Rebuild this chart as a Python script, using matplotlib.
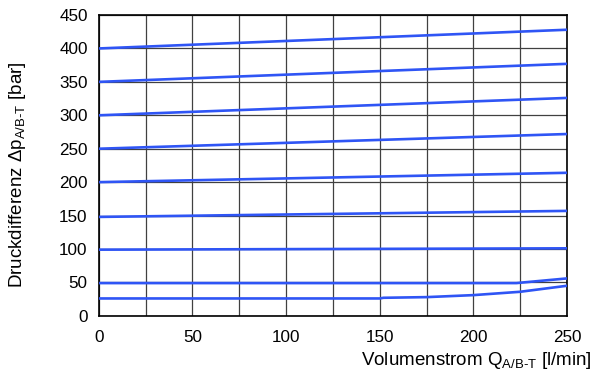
import numpy as np
import matplotlib.pyplot as plt

plt.rcParams['font.family'] = ['Liberation Sans', 'DejaVu Sans']
plt.rcParams['mathtext.fontset'] = 'custom'
plt.rcParams['mathtext.rm'] = 'Liberation Sans'

# Flow rate (l/min) and pressure differential (bar) for each setting
q_lin = [0, 250]
p400 = [400, 428]
p350 = [350, 377]
p300 = [300, 326]
p250 = [250, 272]
p200 = [200, 214]
p150 = [148, 157]
p100 = [99, 101]

q50 = [0, 150, 223, 250]
p50 = [49, 49, 49, 56]

q25 = [0, 150, 152, 175, 200, 225, 250]
p25 = [26, 26, 27, 28, 31, 36, 45]

xticks = [0, 50, 100, 150, 200, 250]
yticks = [0, 50, 100, 150, 200, 250, 300, 350, 400, 450]

fig = plt.figure(figsize=(5.95, 3.76), dpi=100)
ax = fig.add_axes([0.166, 0.160, 0.787, 0.800])

blue = '#2f55f5'
for p in [p400, p350, p300, p250, p200, p150, p100]:
    ax.plot(q_lin, p, color=blue, lw=1.9, zorder=3)
ax.plot(q50, p50, color=blue, lw=1.9, zorder=3)
ax.plot(q25, p25, color=blue, lw=1.9, zorder=3)

ax.set_xlim(0, 250)
ax.set_ylim(0, 450)
ax.set_xticks(xticks)
ax.set_yticks(yticks)
ax.set_xticks(np.arange(0, 251, 25), minor=True)
ax.grid(True, which='both', axis='x', color='#404040', lw=0.9)
ax.grid(True, which='major', axis='y', color='#404040', lw=0.9)
ax.tick_params(which='both', length=0, labelsize=12.3)
ax.tick_params(axis='x', pad=10)
ax.tick_params(axis='y', pad=8)
for s in ax.spines.values():
    s.set_linewidth(1.2)
    s.set_color('black')

fig.text(0.030, 0.535, 'Druckdifferenz $\\mathregular{\\Delta p_{A/B\\text{-}T}}$ [bar]',
         rotation=90, ha='center', va='center', fontsize=13.5)
fig.text(0.995, 0.030, 'Volumenstrom $\\mathregular{Q_{A/B\\text{-}T}}$ [l/min]',
         ha='right', va='baseline', fontsize=13.5)

fig.savefig('out.png', dpi=100)
